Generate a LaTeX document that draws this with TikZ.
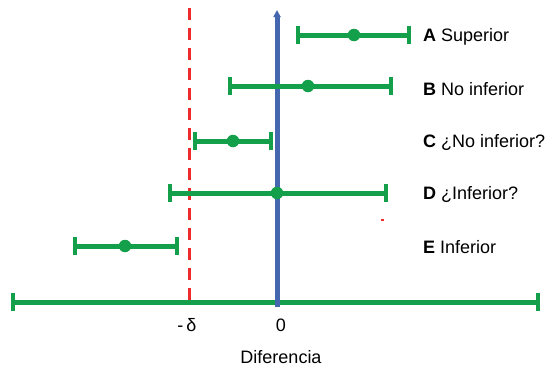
\documentclass[tikz,border=0pt]{standalone}
\usepackage{fontspec}
\setmainfont{Liberation Sans}
\usetikzlibrary{arrows.meta}
\definecolor{cigreen}{HTML}{14A04A}
\definecolor{zeroblue}{HTML}{4467B0}
\definecolor{deltared}{HTML}{EE2A2A}
\tikzset{
  ci/.style={draw=cigreen, line width=5pt},
  capst/.style={draw=cigreen, line width=4pt},
  est/.style={circle, fill=cigreen, inner sep=0pt, minimum size=12.5pt},
  lbl/.style={anchor=west, font=\fontsize{18}{21}\selectfont, inner sep=0pt},
  tick/.style={font=\fontsize{18}{21}\selectfont, inner sep=0pt}
}
\newcommand{\cicaps}[2]{%
  \draw[capst] (#1) ++(0,-9) -- ++(0,18);
  \draw[capst] (#2) ++(0,-9) -- ++(0,18);}
\begin{document}
\begin{tikzpicture}[x=1pt,y=-1pt]
\useasboundingbox (0,0) rectangle (548,370);
% reference lines
\coordinate (rtop) at (189.5,8);
\coordinate (rbot) at (189.5,306);
\draw[deltared, line width=2.5pt, dash pattern=on 12pt off 8pt] (rtop) -- (rbot);
\coordinate (btop) at (277,10);
\coordinate (bbot) at (277,307);
% axis
\coordinate (axL) at (13,302);
\coordinate (axR) at (538,302);
\draw[ci] (axL) -- (axR);
\cicaps{axL}{axR}
\draw[zeroblue, line width=5pt, -{Triangle[length=7pt,width=7pt]}] (bbot) -- (btop);
% intervals
\coordinate (aL) at (298,35); \coordinate (aR) at (409,35);
\coordinate (bL) at (230,86); \coordinate (bR) at (391,86);
\coordinate (cL) at (195,141); \coordinate (cR) at (271,141);
\coordinate (dL) at (170,193); \coordinate (dR) at (386,193);
\coordinate (eL) at (75,246); \coordinate (eR) at (177,246);
\draw[ci] (aL) -- (aR); \cicaps{aL}{aR}
\draw[ci] (bL) -- (bR); \cicaps{bL}{bR}
\draw[ci] (cL) -- (cR); \cicaps{cL}{cR}
\draw[ci] (dL) -- (dR); \cicaps{dL}{dR}
\draw[ci] (eL) -- (eR); \cicaps{eL}{eR}
\node[est] (aP) at (354,35) {};
\node[est] (bP) at (308,86) {};
\node[est] (cP) at (233,141) {};
\node[est] (dP) at (277,193) {};
\node[est] (eP) at (125,246) {};
% labels
\node[lbl] (aT) at (423,37) {\textbf{A} Superior};
\node[lbl] (bT) at (423,89) {\textbf{B} No inferior};
\node[lbl] (cT) at (423,143) {\textbf{C} ¿No inferior?};
\node[lbl] (dT) at (423,195) {\textbf{D} ¿Inferior?};
\node[lbl] (eT) at (423,247) {\textbf{E} Inferior};
\node[tick] (md) at (187,325) {-\,δ};
\node[tick] (z0) at (281,325) {0};
\node[tick] (dif) at (281,357) {Diferencia};
% stray mark
\coordinate (m1) at (381,220); \coordinate (m2) at (384,220);
\draw[deltared, line width=1.2pt] (m1) -- (m2);
\end{tikzpicture}
\end{document}
